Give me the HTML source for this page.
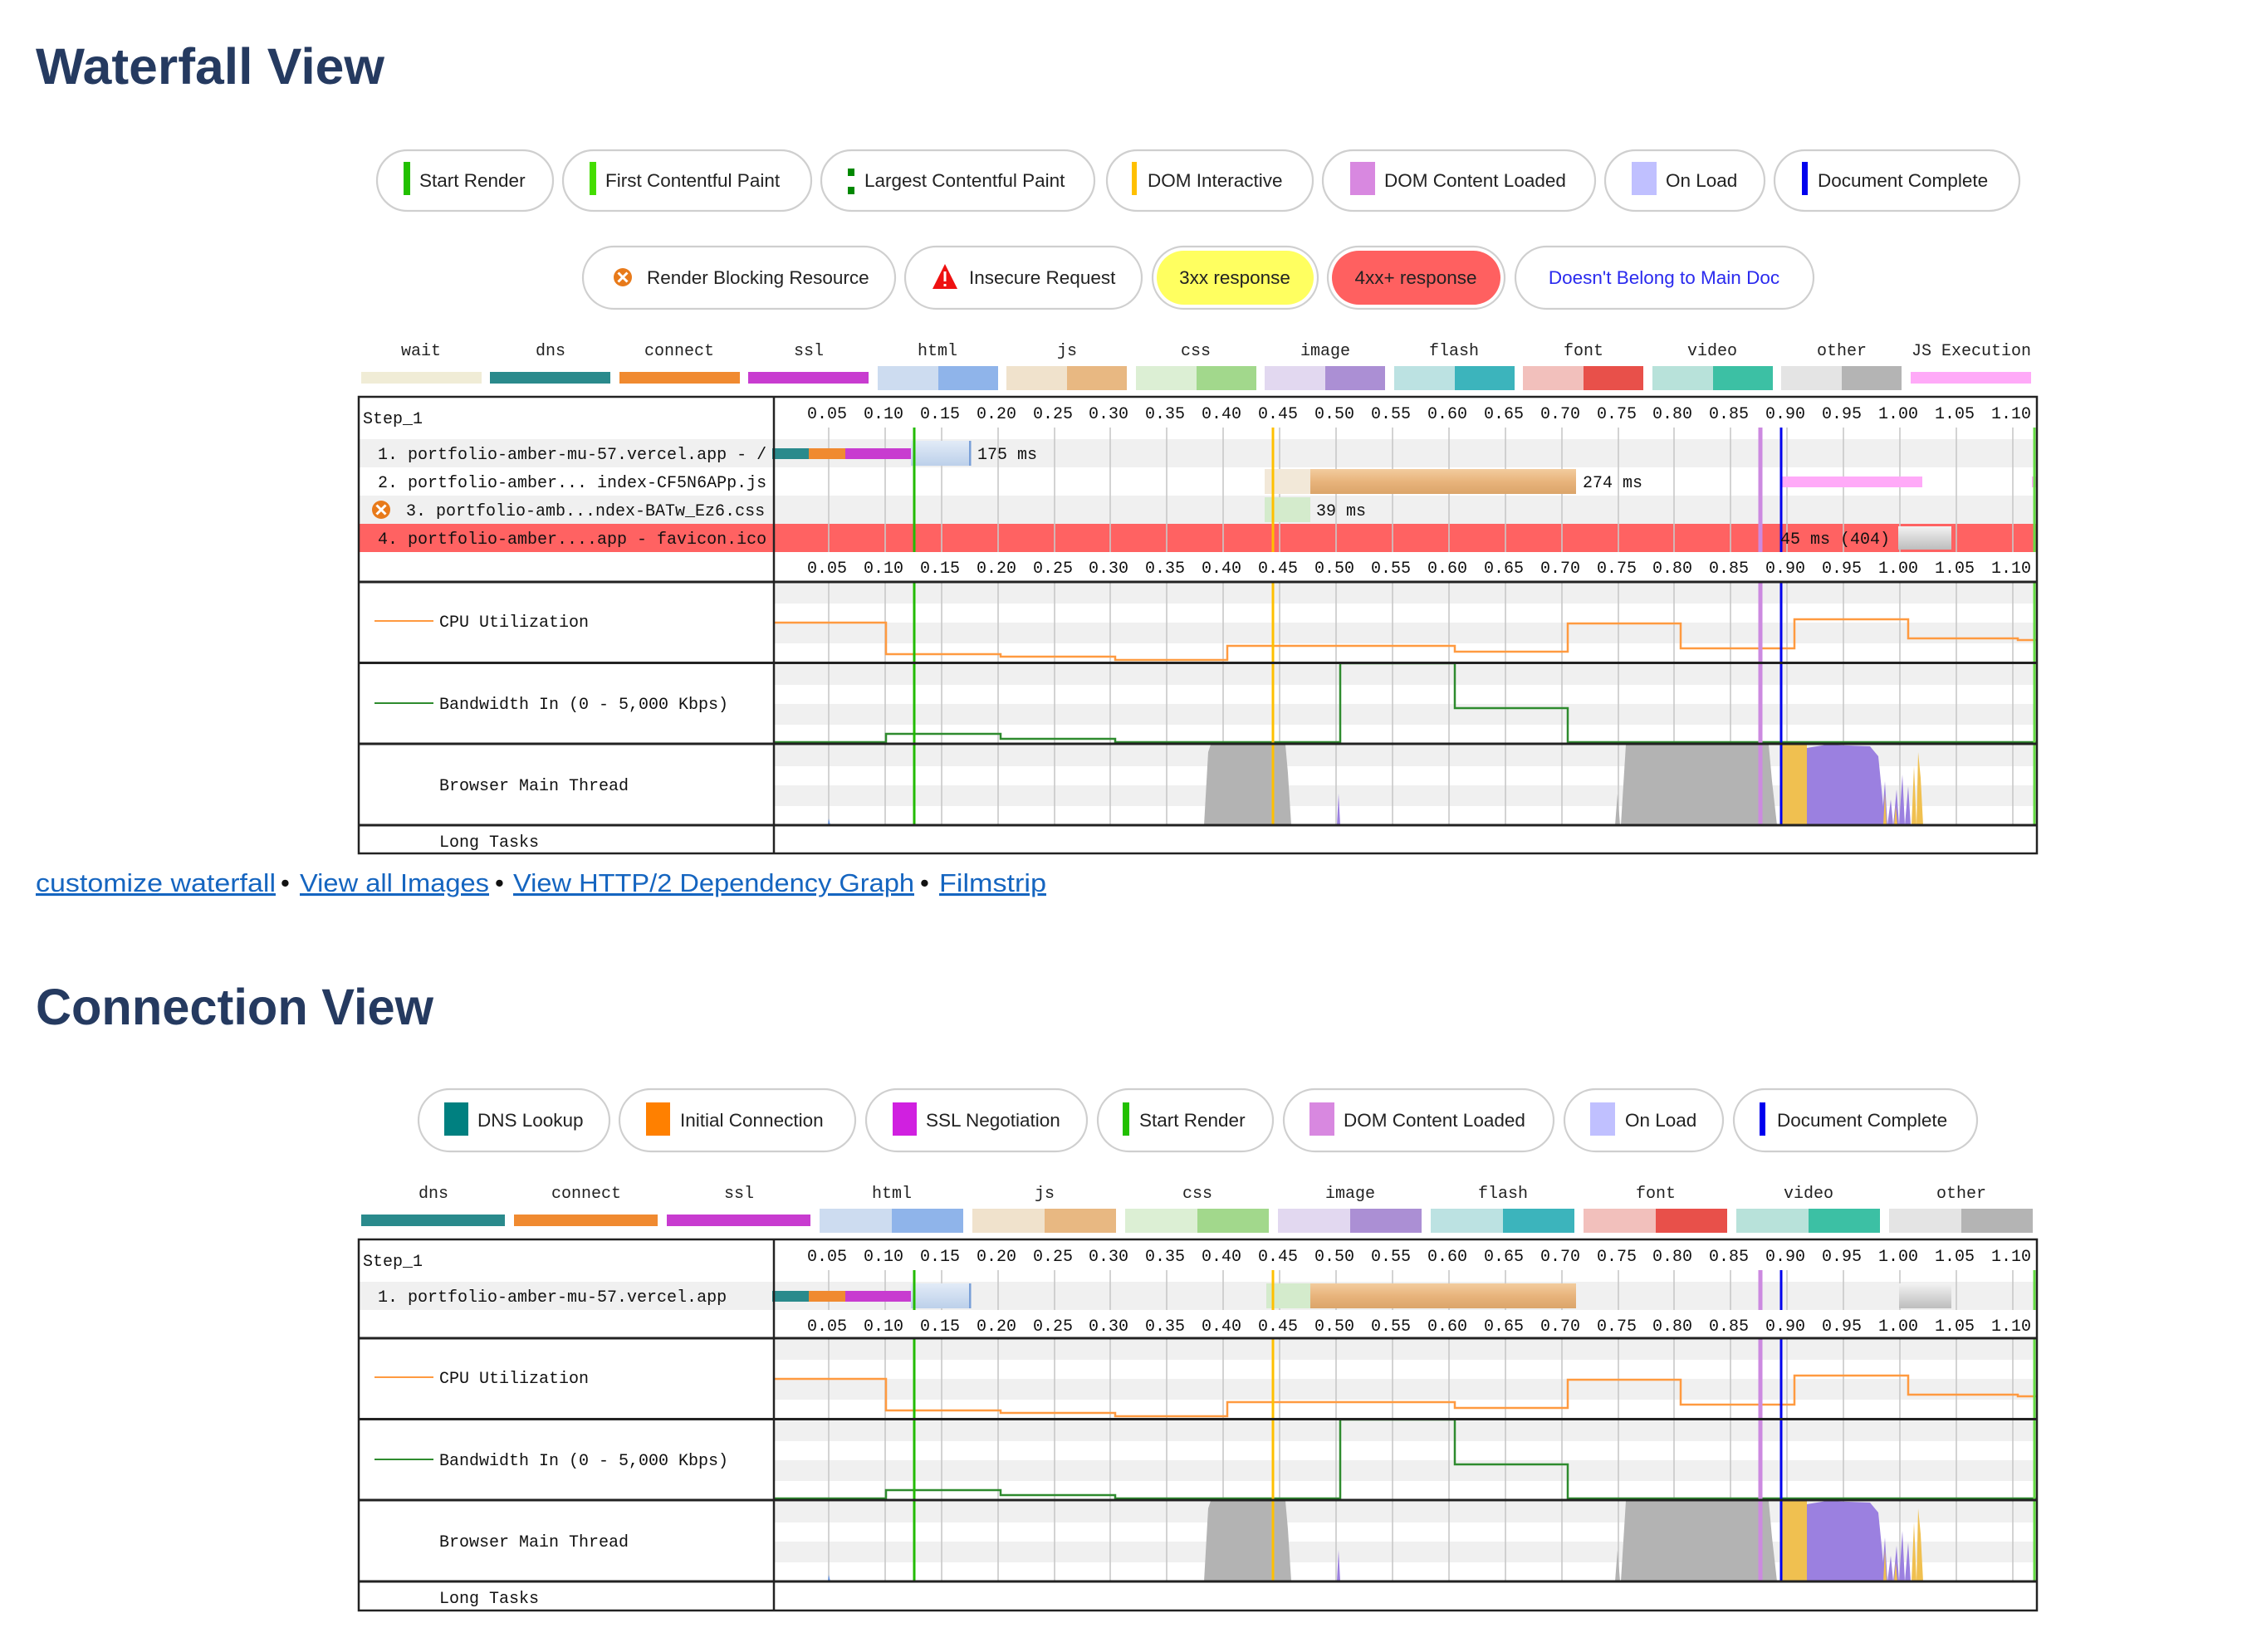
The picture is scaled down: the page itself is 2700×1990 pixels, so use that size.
<!DOCTYPE html>
<html><head><meta charset="utf-8">
<style>
html,body{margin:0;padding:0;background:#fff;}
svg{display:block;}
.sans{font-family:"Liberation Sans",sans-serif;}
.mono{font-family:"Liberation Mono","DejaVu Sans Mono",monospace;}
</style></head>
<body>
<svg width="2700" height="1990" viewBox="0 0 2700 1990" xmlns="http://www.w3.org/2000/svg">
<defs>
  <path id="gridp" d="M998 0V1M1066 0V1M1134 0V1M1202 0V1M1270 0V1M1337 0V1M1405 0V1M1473 0V1M1541 0V1M1609 0V1M1677 0V1M1745 0V1M1813 0V1M1881 0V1M1949 0V1M2016 0V1M2084 0V1M2152 0V1M2220 0V1M2288 0V1M2356 0V1M2424 0V1" stroke="#c8c8c8" stroke-width="1.6" vector-effect="non-scaling-stroke" fill="none"/>
  <g id="ticks" class="mono" font-size="20" fill="#111" text-anchor="middle">
    <text x="996">0.05</text><text x="1064">0.10</text><text x="1132">0.15</text><text x="1200">0.20</text><text x="1268">0.25</text><text x="1335">0.30</text><text x="1403">0.35</text><text x="1471">0.40</text><text x="1539">0.45</text><text x="1607">0.50</text><text x="1675">0.55</text><text x="1743">0.60</text><text x="1811">0.65</text><text x="1879">0.70</text><text x="1947">0.75</text><text x="2014">0.80</text><text x="2082">0.85</text><text x="2150">0.90</text><text x="2218">0.95</text><text x="2286">1.00</text><text x="2354">1.05</text><text x="2422">1.10</text>
  </g>
  <g id="sec">
    <g fill="#f0f0f0">
      <rect x="933" y="2" width="1518" height="24"/><rect x="933" y="49" width="1518" height="25"/>
      <rect x="933" y="99" width="1518" height="25"/><rect x="933" y="147" width="1518" height="25"/>
      <rect x="933" y="197" width="1518" height="25"/><rect x="933" y="245" width="1518" height="25"/>
    </g>
    <use href="#gridp" transform="translate(0,0) scale(1,293)"/>
    <!-- main thread -->
    <polygon points="1450,293 1455,205 1458,196 1548,196 1551,230 1555,293" fill="#b3b3b3"/>
    <polygon points="1945,293 1948,255 1951,293" fill="#b3b3b3"/>
    <polygon points="1952,293 1958,196 2130,196 2134,240 2140,293" fill="#b3b3b3"/>
    <polygon points="1610,293 1612,255 1614,293" fill="#9b80e0"/>
    <polygon points="997,293 998,285 1000,293" fill="#6090e0"/>
    <rect x="2145" y="196" width="31" height="97" fill="#f0c050"/>
    <polygon points="2176,293 2176,200 2200,196 2252,198 2262,210 2266,250 2270,293" fill="#9b80e0"/>
    <polygon points="2266,293 2270,240 2273,293 2277,262 2280,293 2284,250 2287,293 2291,232 2294,293 2298,246 2301,293" fill="#9b80e0"/>
    <polygon points="2268,293 2270,255 2272,293 2281,293 2283,270 2285,293 2302,293 2305,222 2308,293 2310,205 2313,236 2316,293" fill="#f0c050"/>
    <!-- CPU -->
    <path d="M932 49H1067V87H1205V90H1343V94H1478V77H1752V84H1888V50H2024V80H2161V45H2298V68H2430V70H2452" fill="none" stroke="#ff9a40" stroke-width="2.5"/>
    <!-- BW -->
    <path d="M932 193H1067V183H1205V189H1343V193H1614V98H1752V152H1888V193H2452" fill="none" stroke="#2e8b2e" stroke-width="2.5"/>
    <!-- markers -->
    <rect x="1099.5" y="0" width="3" height="293" fill="#22bb00"/>
    <rect x="1531.5" y="0" width="3" height="293" fill="#ffc000"/>
    <rect x="2117.5" y="0" width="5" height="293" fill="#cc8ae0"/>
    <rect x="2143.5" y="0" width="3" height="293" fill="#0000ee"/>
    <rect x="2448.5" y="0" width="3" height="293" fill="#66dd44"/>
    <g stroke="#222" stroke-width="3">
      <line x1="432" y1="0" x2="2453" y2="0"/>
      <line x1="432" y1="97.5" x2="2453" y2="97.5"/>
      <line x1="432" y1="195" x2="2453" y2="195"/>
      <line x1="432" y1="293" x2="2453" y2="293"/>
    </g>
    <line x1="451" y1="47" x2="522" y2="47" stroke="#ff9a40" stroke-width="2"/>
    <line x1="451" y1="146" x2="522" y2="146" stroke="#2e8b2e" stroke-width="2"/>
  </g>
  <g id="xicon">
    <circle cx="0" cy="0" r="11" fill="#e87a1a"/>
    <path d="M-5.5 -5.5L5.5 5.5M5.5 -5.5L-5.5 5.5" stroke="#fff" stroke-width="3"/>
  </g>
  <linearGradient id="gTan" x1="0" y1="0" x2="0" y2="1"><stop offset="0" stop-color="#f2cc9e"/><stop offset="0.5" stop-color="#e8b47c"/><stop offset="1" stop-color="#dba56a"/></linearGradient>
  <linearGradient id="gHtml" x1="0" y1="0" x2="0" y2="1"><stop offset="0" stop-color="#e2ebf7"/><stop offset="1" stop-color="#bcd0ea"/></linearGradient>
  <linearGradient id="gGray" x1="0" y1="0" x2="0" y2="1"><stop offset="0" stop-color="#f2f2f2"/><stop offset="1" stop-color="#bdbdbd"/></linearGradient>
</defs>

<!-- ===== Waterfall View ===== -->
<text x="43" y="101" class="sans" font-weight="bold" font-size="61" fill="#253a60" textLength="420" lengthAdjust="spacingAndGlyphs">Waterfall View</text>

<!-- pills row 1 -->
<g fill="#fff" stroke="#cfcfcf" stroke-width="2.2">
  <rect x="454" y="181" width="212" height="73" rx="36.5"/>
  <rect x="678" y="181" width="299" height="73" rx="36.5"/>
  <rect x="989" y="181" width="329" height="73" rx="36.5"/>
  <rect x="1333" y="181" width="248" height="73" rx="36.5"/>
  <rect x="1593" y="181" width="328" height="73" rx="36.5"/>
  <rect x="1933" y="181" width="192" height="73" rx="36.5"/>
  <rect x="2137" y="181" width="295" height="73" rx="36.5"/>
</g>
<rect x="486" y="195" width="8" height="40" fill="#22c000"/>
<rect x="710" y="195" width="8" height="40" fill="#44dd00"/>
<rect x="1021" y="203" width="8" height="9" fill="#008800"/><rect x="1021" y="225" width="8" height="9" fill="#008800"/>
<rect x="1363" y="195" width="6" height="40" fill="#ffc000"/>
<rect x="1626" y="195" width="30" height="40" fill="#d888e0"/>
<rect x="1965" y="195" width="30" height="40" fill="#c0c0ff"/>
<rect x="2170" y="195" width="7" height="40" fill="#0000ee"/>
<g class="sans" font-size="22.5" fill="#222">
  <text x="505" y="225">Start Render</text>
  <text x="729" y="225">First Contentful Paint</text>
  <text x="1041" y="225">Largest Contentful Paint</text>
  <text x="1382" y="225">DOM Interactive</text>
  <text x="1667" y="225">DOM Content Loaded</text>
  <text x="2006" y="225">On Load</text>
  <text x="2189" y="225">Document Complete</text>
</g>

<!-- pills row 2 -->
<g fill="#fff" stroke="#cfcfcf" stroke-width="2.2">
  <rect x="702" y="297" width="376" height="75" rx="37.5"/>
  <rect x="1090" y="297" width="285" height="75" rx="37.5"/>
  <rect x="1388" y="297" width="199" height="75" rx="37.5"/>
  <rect x="1599" y="297" width="213" height="75" rx="37.5"/>
  <rect x="1825" y="297" width="359" height="75" rx="37.5"/>
</g>
<rect x="1393" y="302" width="189" height="65" rx="32.5" fill="#ffff60"/>
<rect x="1604" y="302" width="203" height="65" rx="32.5" fill="#ff6060"/>
<use href="#xicon" transform="translate(750,334)"/>
<polygon points="1138,318 1153,348 1123,348" fill="#ee1111"/>
<rect x="1136.5" y="327" width="3" height="12" fill="#fff"/><rect x="1136.5" y="342" width="3" height="3" fill="#fff"/>
<g class="sans" font-size="22.5" fill="#222">
  <text x="779" y="342">Render Blocking Resource</text>
  <text x="1167" y="342">Insecure Request</text>
  <text x="1487" y="342" text-anchor="middle">3xx response</text>
  <text x="1705" y="342" text-anchor="middle">4xx+ response</text>
  <text x="2004" y="342" text-anchor="middle" fill="#2a2aee">Doesn't Belong to Main Doc</text>
</g>

<!-- type legend waterfall -->
<g class="mono" font-size="20" fill="#222" text-anchor="middle">
  <text x="507" y="428">wait</text><text x="663" y="428">dns</text><text x="818" y="428">connect</text><text x="974" y="428">ssl</text><text x="1129" y="428">html</text><text x="1285" y="428">js</text><text x="1440" y="428">css</text><text x="1596" y="428">image</text><text x="1751" y="428">flash</text><text x="1907" y="428">font</text><text x="2062" y="428">video</text><text x="2218" y="428">other</text><text x="2374" y="428">JS Execution</text>
</g>
<rect x="435" y="448" width="145" height="14" fill="#f0ecd6"/>
<rect x="590" y="448" width="145" height="14" fill="#2a8a8c"/>
<rect x="746" y="448" width="145" height="14" fill="#f08a30"/>
<rect x="901" y="448" width="145" height="14" fill="#c83cd0"/>
<rect x="1057" y="441" width="73" height="29" fill="#cddcf0"/><rect x="1130" y="441" width="72" height="29" fill="#8fb4ea"/>
<rect x="1212" y="441" width="73" height="29" fill="#f0e2cc"/><rect x="1285" y="441" width="72" height="29" fill="#e8b882"/>
<rect x="1368" y="441" width="73" height="29" fill="#dcefd4"/><rect x="1441" y="441" width="72" height="29" fill="#a2d88c"/>
<rect x="1523" y="441" width="73" height="29" fill="#e2d8f0"/><rect x="1596" y="441" width="72" height="29" fill="#ab8fd4"/>
<rect x="1679" y="441" width="73" height="29" fill="#bce2e2"/><rect x="1752" y="441" width="72" height="29" fill="#3cb4bc"/>
<rect x="1834" y="441" width="73" height="29" fill="#f2c0bc"/><rect x="1907" y="441" width="72" height="29" fill="#e8504a"/>
<rect x="1990" y="441" width="73" height="29" fill="#b8e2da"/><rect x="2063" y="441" width="72" height="29" fill="#3cc0a4"/>
<rect x="2145" y="441" width="73" height="29" fill="#e4e4e4"/><rect x="2218" y="441" width="72" height="29" fill="#b4b4b4"/>
<rect x="2301" y="448" width="145" height="14" fill="#ffaaf8"/>

<!-- waterfall table -->
<rect x="432" y="529" width="2021" height="34" fill="#f0f0f0"/>
<rect x="432" y="597" width="2021" height="34" fill="#f0f0f0"/>
<rect x="432" y="631" width="2021" height="34" fill="#ff6262"/>
<use href="#gridp" transform="translate(0,515) scale(1,150)"/>
<use href="#ticks" y="504"/>
<use href="#ticks" y="690"/>
<g class="mono" font-size="20" fill="#111">
  <text x="437" y="510">Step_1</text>
  <text x="455" y="553">1. portfolio-amber-mu-57.vercel.app - /</text>
  <text x="455" y="587">2. portfolio-amber... index-CF5N6APp.js</text>
  <text x="489" y="621">3. portfolio-amb...ndex-BATw_Ez6.css</text>
  <text x="455" y="655">4. portfolio-amber....app - favicon.ico</text>
</g>
<use href="#xicon" transform="translate(459,614)"/>
<!-- bars -->
<rect x="930" y="540" width="44" height="13" fill="#2a8a8c"/>
<rect x="974" y="540" width="44" height="13" fill="#f08a30"/>
<rect x="1018" y="540" width="79" height="13" fill="#c83cd0"/>
<rect x="1097" y="531" width="72" height="30" fill="url(#gHtml)"/><rect x="1167" y="531" width="2.5" height="30" fill="#7aa0d8"/>
<text x="1177" y="553" class="mono" font-size="20" fill="#111">175 ms</text>
<rect x="1523" y="565" width="55" height="30" fill="#f2e8d8"/>
<rect x="1578" y="565" width="320" height="30" fill="url(#gTan)"/>
<text x="1906" y="587" class="mono" font-size="20" fill="#111">274 ms</text>
<rect x="2145" y="574" width="170" height="13" fill="#ffaaf8"/>
<rect x="2447" y="574" width="5" height="13" fill="#ffaaf8"/>
<rect x="1523" y="599" width="55" height="30" fill="#d4ebcc"/>
<text x="1585" y="621" class="mono" font-size="20" fill="#111">39 ms</text>
<rect x="2286" y="634" width="64" height="28" fill="url(#gGray)"/>
<!-- markers req area -->
<rect x="1099.5" y="515" width="3" height="150" fill="#22bb00"/>
<rect x="1531.5" y="515" width="3" height="150" fill="#ffc000"/>
<rect x="2117.5" y="515" width="5" height="150" fill="#cc8ae0"/>
<rect x="2143.5" y="515" width="3" height="150" fill="#0000ee"/>
<rect x="2448.5" y="515" width="3" height="150" fill="#66dd44"/>
<text x="2144" y="655" class="mono" font-size="20" fill="#111">45 ms (404)</text>
<use href="#sec" y="701"/>
<g class="mono" font-size="20" fill="#111">
  <text x="529" y="755">CPU Utilization</text>
  <text x="529" y="854">Bandwidth In (0 - 5,000 Kbps)</text>
  <text x="529" y="952">Browser Main Thread</text>
  <text x="529" y="1020">Long Tasks</text>
</g>
<line x1="932" y1="478" x2="932" y2="1028" stroke="#222" stroke-width="2.5"/>
<rect x="432" y="478" width="2021" height="550" fill="none" stroke="#222" stroke-width="2.5"/>

<!-- links -->
<g class="sans" font-size="31">
  <text x="43" y="1074" fill="#1565c0" text-decoration="underline" textLength="289" lengthAdjust="spacingAndGlyphs">customize waterfall</text>
  <text x="338" y="1074" fill="#111">•</text>
  <text x="361" y="1074" fill="#1565c0" text-decoration="underline" textLength="228" lengthAdjust="spacingAndGlyphs">View all Images</text>
  <text x="596" y="1074" fill="#111">•</text>
  <text x="618" y="1074" fill="#1565c0" text-decoration="underline" textLength="483" lengthAdjust="spacingAndGlyphs">View HTTP/2 Dependency Graph</text>
  <text x="1108" y="1074" fill="#111">•</text>
  <text x="1131" y="1074" fill="#1565c0" text-decoration="underline" textLength="129" lengthAdjust="spacingAndGlyphs">Filmstrip</text>
</g>

<!-- ===== Connection View ===== -->
<text x="43" y="1234" class="sans" font-weight="bold" font-size="61" fill="#253a60" textLength="479" lengthAdjust="spacingAndGlyphs">Connection View</text>

<g fill="#fff" stroke="#cfcfcf" stroke-width="2.2">
  <rect x="504" y="1312" width="230" height="75" rx="37.5"/>
  <rect x="746" y="1312" width="284" height="75" rx="37.5"/>
  <rect x="1043" y="1312" width="266" height="75" rx="37.5"/>
  <rect x="1322" y="1312" width="211" height="75" rx="37.5"/>
  <rect x="1546" y="1312" width="325" height="75" rx="37.5"/>
  <rect x="1884" y="1312" width="191" height="75" rx="37.5"/>
  <rect x="2088" y="1312" width="293" height="75" rx="37.5"/>
</g>
<rect x="535" y="1328" width="29" height="40" fill="#008080"/>
<rect x="778" y="1328" width="29" height="40" fill="#ff8000"/>
<rect x="1075" y="1328" width="29" height="40" fill="#d020e0"/>
<rect x="1352" y="1328" width="8" height="40" fill="#22c000"/>
<rect x="1577" y="1328" width="30" height="40" fill="#d888e0"/>
<rect x="1915" y="1328" width="30" height="40" fill="#c0c0ff"/>
<rect x="2119" y="1328" width="7" height="40" fill="#0000ee"/>
<g class="sans" font-size="22.5" fill="#222">
  <text x="575" y="1357">DNS Lookup</text>
  <text x="819" y="1357">Initial Connection</text>
  <text x="1115" y="1357">SSL Negotiation</text>
  <text x="1372" y="1357">Start Render</text>
  <text x="1618" y="1357">DOM Content Loaded</text>
  <text x="1957" y="1357">On Load</text>
  <text x="2140" y="1357">Document Complete</text>
</g>

<g class="mono" font-size="20" fill="#222" text-anchor="middle">
  <text x="522" y="1443">dns</text><text x="706" y="1443">connect</text><text x="890" y="1443">ssl</text><text x="1074" y="1443">html</text><text x="1258" y="1443">js</text><text x="1442" y="1443">css</text><text x="1626" y="1443">image</text><text x="1810" y="1443">flash</text><text x="1994" y="1443">font</text><text x="2178" y="1443">video</text><text x="2362" y="1443">other</text>
</g>
<rect x="435" y="1463" width="173" height="14" fill="#2a8a8c"/>
<rect x="619" y="1463" width="173" height="14" fill="#f08a30"/>
<rect x="803" y="1463" width="173" height="14" fill="#c83cd0"/>
<rect x="987" y="1456" width="87" height="29" fill="#cddcf0"/><rect x="1074" y="1456" width="86" height="29" fill="#8fb4ea"/>
<rect x="1171" y="1456" width="87" height="29" fill="#f0e2cc"/><rect x="1258" y="1456" width="86" height="29" fill="#e8b882"/>
<rect x="1355" y="1456" width="87" height="29" fill="#dcefd4"/><rect x="1442" y="1456" width="86" height="29" fill="#a2d88c"/>
<rect x="1539" y="1456" width="87" height="29" fill="#e2d8f0"/><rect x="1626" y="1456" width="86" height="29" fill="#ab8fd4"/>
<rect x="1723" y="1456" width="87" height="29" fill="#bce2e2"/><rect x="1810" y="1456" width="86" height="29" fill="#3cb4bc"/>
<rect x="1907" y="1456" width="87" height="29" fill="#f2c0bc"/><rect x="1994" y="1456" width="86" height="29" fill="#e8504a"/>
<rect x="2091" y="1456" width="87" height="29" fill="#b8e2da"/><rect x="2178" y="1456" width="86" height="29" fill="#3cc0a4"/>
<rect x="2275" y="1456" width="87" height="29" fill="#e4e4e4"/><rect x="2362" y="1456" width="86" height="29" fill="#b4b4b4"/>

<!-- connection table -->
<rect x="432" y="1544" width="2021" height="34" fill="#f0f0f0"/>
<use href="#gridp" transform="translate(0,1530) scale(1,48)"/>
<use href="#ticks" y="1519"/>
<use href="#ticks" y="1603"/>
<g class="mono" font-size="20" fill="#111">
  <text x="437" y="1525">Step_1</text>
  <text x="455" y="1568">1. portfolio-amber-mu-57.vercel.app</text>
</g>
<rect x="930" y="1555" width="44" height="13" fill="#2a8a8c"/>
<rect x="974" y="1555" width="44" height="13" fill="#f08a30"/>
<rect x="1018" y="1555" width="79" height="13" fill="#c83cd0"/>
<rect x="1097" y="1546" width="72" height="30" fill="url(#gHtml)"/><rect x="1167" y="1546" width="2.5" height="30" fill="#7aa0d8"/>
<rect x="1525" y="1546" width="53" height="30" fill="#d4ebcc"/>
<rect x="1578" y="1546" width="320" height="30" fill="url(#gTan)"/>
<rect x="2287" y="1546" width="63" height="30" fill="url(#gGray)"/>
<rect x="1099.5" y="1530" width="3" height="48" fill="#22bb00"/>
<rect x="1531.5" y="1530" width="3" height="48" fill="#ffc000"/>
<rect x="2117.5" y="1530" width="5" height="48" fill="#cc8ae0"/>
<rect x="2143.5" y="1530" width="3" height="48" fill="#0000ee"/>
<rect x="2448.5" y="1530" width="3" height="48" fill="#66dd44"/>
<use href="#sec" y="1612"/>
<g class="mono" font-size="20" fill="#111">
  <text x="529" y="1666">CPU Utilization</text>
  <text x="529" y="1765">Bandwidth In (0 - 5,000 Kbps)</text>
  <text x="529" y="1863">Browser Main Thread</text>
  <text x="529" y="1931">Long Tasks</text>
</g>
<line x1="932" y1="1493" x2="932" y2="1940" stroke="#222" stroke-width="2.5"/>
<rect x="432" y="1493" width="2021" height="447" fill="none" stroke="#222" stroke-width="2.5"/>
</svg>
</body></html>
